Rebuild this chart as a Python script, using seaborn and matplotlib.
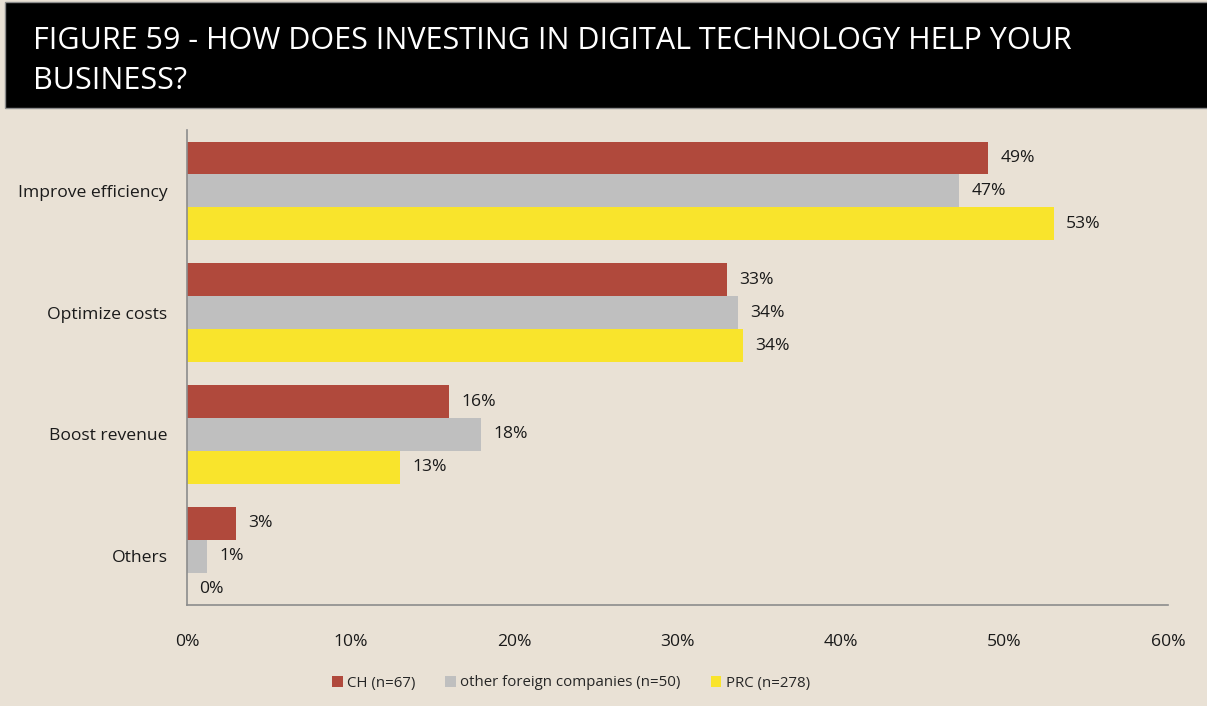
import matplotlib
matplotlib.use("Agg")
import matplotlib.pyplot as plt
import matplotlib.patches as mpatches
import seaborn as sns
import pandas as pd

categories = ["Improve efficiency", "Optimize costs", "Boost revenue", "Others"]
series_names = ["CH (n=67)", "other foreign companies (n=50)", "PRC (n=278)"]
ch_values = [49, 33, 16, 3]
other_values = [47.2, 33.7, 18, 1.2]
prc_values = [53, 34, 13, 0]
x_ticks = [0, 10, 20, 30, 40, 50, 60]
x_tick_labels = ["0%", "10%", "20%", "30%", "40%", "50%", "60%"]
title = "FIGURE 59 - HOW DOES INVESTING IN DIGITAL TECHNOLOGY HELP YOUR\nBUSINESS?"

colors = ["#B0493C", "#BFBFBF", "#F9E42C"]
bg = "#E9E1D5"

rows = []
for name, vals in zip(series_names, [ch_values, other_values, prc_values]):
    for c, v in zip(categories, vals):
        rows.append({"category": c, "series": name, "value": v})
df = pd.DataFrame(rows)

sns.set_theme(style="white")
plt.rcParams["font.family"] = ["Open Sans", "DejaVu Sans"]

fig = plt.figure(figsize=(12.07, 7.06), dpi=100)
fig.patch.set_facecolor(bg)
# title band
fig.patches.append(mpatches.Rectangle((5 / 1207, 1 - 108 / 706), 1, 106 / 706,
                                      transform=fig.transFigure, facecolor="black",
                                      edgecolor="#8c8c8c", linewidth=1, zorder=0))
fig.text(33 / 1207, 1 - 61 / 706, title, color="white", fontsize=22,
         va="center", ha="left", linespacing=1.42)

ax = fig.add_axes([187 / 1207, 1 - 605 / 706, (1168 - 187) / 1207, (605 - 130) / 706])
ax.set_facecolor(bg)
sns.barplot(data=df, y="category", x="value", hue="series", order=categories,
            hue_order=series_names, palette=colors, orient="h", width=0.81,
            saturation=1, ax=ax, legend=True, edgecolor="none")

for cont in ax.containers:
    ax.bar_label(cont, labels=[f"{v:.0f}%" for v in cont.datavalues],
                 padding=9, fontsize=12.6, color="#1a1a1a")

ax.set_xlim(0, 60)
ax.set_ylim(3.4, -0.5)
ax.set_xticks(x_ticks)
ax.set_xticklabels(x_tick_labels, fontsize=12.6, color="#1a1a1a")
ax.tick_params(axis="x", pad=21, length=0)
ax.tick_params(axis="y", pad=14, length=0, labelsize=12.6, labelcolor="#1a1a1a")
ax.set_xlabel("")
ax.set_ylabel("")
for s in ["top", "right"]:
    ax.spines[s].set_visible(False)
for s in ["left", "bottom"]:
    ax.spines[s].set_color("#8c8c8c")
    ax.spines[s].set_linewidth(1.2)

handles, labels = ax.get_legend_handles_labels()
ax.legend_.remove()
fig.legend(handles, labels, loc="center", bbox_to_anchor=(571 / 1207, 1 - 683 / 706),
           ncol=3, frameon=False, fontsize=10.8, handlelength=0.7, handleheight=0.7,
           handletextpad=0.3, columnspacing=2.0)

fig.savefig("out.png", dpi=100, facecolor=bg)
